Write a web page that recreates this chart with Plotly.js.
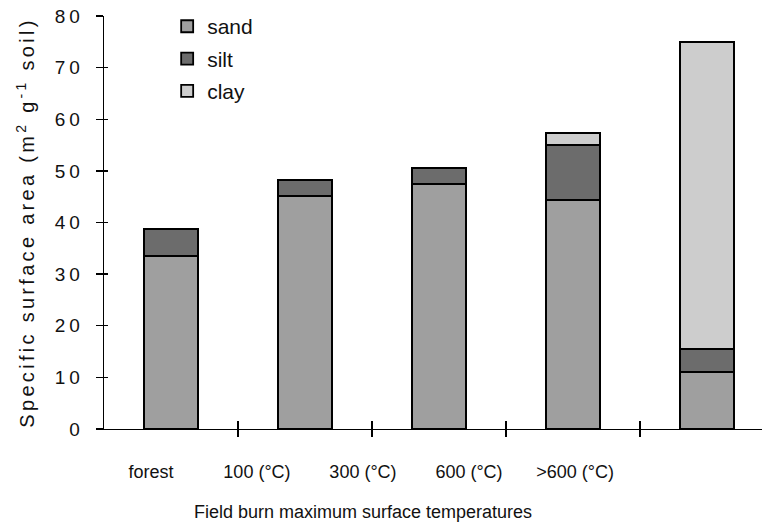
<!DOCTYPE html>
<html>
<head>
<meta charset="utf-8">
<script src="https://cdn.plot.ly/plotly-3.0.1.min.js"></script>
<style>
html,body{margin:0;padding:0;background:#fff;}
#chart{width:762px;height:526px;}
#chart .yaxislayer-above .ytick text{letter-spacing:4px;}
#chart .g-ytitle text{letter-spacing:3.3px;}
</style>
</head>
<body>
<div id="chart"></div>
<script>
const categories = ['forest', '100 (°C)', '300 (°C)', '600 (°C)', '>600 (°C)'];
const sand = [33.5, 45.2, 47.5, 44.4, 11.0];
const silt = [5.2, 3.0, 3.0, 10.6, 4.5];
const clay = [null, null, null, 2.3, 59.5];
const yTicks = [0, 10, 20, 30, 40, 50, 60, 70, 80];

const xIdx = categories.map((c, i) => i);
const boundaries = categories.slice(1).map((c, i) => i + 0.5);
const FONT = 'Liberation Sans, Arial, sans-serif';
const INK = '#111';

function barTrace(name, vals, color) {
  return {
    type: 'bar', name: name, x: xIdx, y: vals, width: 0.40,
    legendgroup: name,
    marker: {color: color, line: {color: '#000', width: 1.8}},
    hoverinfo: 'skip'
  };
}

const data = [
  barTrace('sand', sand, '#9f9f9f'),
  barTrace('silt', silt, '#6c6c6c'),
  barTrace('clay', clay, '#cdcdcd')
];

const layout = {
  width: 762, height: 526,
  margin: {l: 104, r: 0, t: 16, b: 97},
  paper_bgcolor: '#fff', plot_bgcolor: '#fff',
  barmode: 'stack',
  font: {family: FONT, size: 18, color: INK},
  showlegend: true,
  legend: {
    x: 0.096, y: 1.024, xanchor: 'left', yanchor: 'top',
    traceorder: 'grouped', tracegroupgap: 2,
    font: {family: FONT, size: 21, color: INK},
    bgcolor: 'rgba(0,0,0,0)'
  },
  xaxis: {
    type: 'linear', range: [-0.5, 4.41], showgrid: false, zeroline: false,
    showline: true, linecolor: '#000', linewidth: 1.3,
    tickmode: 'array', tickvals: boundaries, ticks: 'outside', ticklen: 7,
    tickcolor: '#000', tickwidth: 1.3, showticklabels: false, fixedrange: true
  },
  xaxis3: {
    overlaying: 'x', anchor: 'y', side: 'bottom',
    type: 'linear', range: [-0.5, 4.41], showgrid: false, zeroline: false,
    showline: false, tickmode: 'array', tickvals: boundaries, ticks: 'inside', ticklen: 8,
    tickcolor: '#000', tickwidth: 1.3, showticklabels: false
  },
  xaxis2: {
    overlaying: 'x', anchor: 'y', side: 'bottom',
    type: 'linear', range: [-0.443, 5.764], showgrid: false, zeroline: false,
    showline: false, ticks: '', tickmode: 'array', tickvals: xIdx, ticktext: categories,
    ticklabelstandoff: 30, tickfont: {family: FONT, size: 18, color: INK}
  },
  yaxis: {
    range: [0, 80], showgrid: false, zeroline: false,
    showline: true, linecolor: '#000', linewidth: 1.3,
    tickmode: 'array', tickvals: yTicks, ticks: 'outside', ticklen: 7,
    tickcolor: '#000', tickwidth: 1.3, ticklabelstandoff: 8,
    tickfont: {family: FONT, size: 19, color: INK},
    title: {text: 'Specific surface area (m<sup>2</sup> g<sup>-1</sup> soil)', font: {family: FONT, size: 20, color: INK}, standoff: 22},
    fixedrange: true
  },
  yaxis2: {
    overlaying: 'y', anchor: 'x', side: 'left',
    range: [0, 80], showgrid: false, zeroline: false, showline: false,
    tickmode: 'array', tickvals: yTicks, ticks: 'inside', ticklen: 4,
    tickcolor: '#000', tickwidth: 1.3, showticklabels: false
  },
  annotations: [{
    text: 'Field burn maximum surface temperatures',
    xref: 'paper', yref: 'paper', x: 0.394, y: -0.201,
    xanchor: 'center', yanchor: 'middle', showarrow: false,
    font: {family: FONT, size: 18, color: INK}
  }]
};

data.push({type: 'scatter', x: [null], y: [null], xaxis: 'x2', yaxis: 'y', showlegend: false, hoverinfo: 'skip'});
data.push({type: 'scatter', x: [null], y: [null], xaxis: 'x3', yaxis: 'y', showlegend: false, hoverinfo: 'skip'});
data.push({type: 'scatter', x: [null], y: [null], xaxis: 'x', yaxis: 'y2', showlegend: false, hoverinfo: 'skip'});

Plotly.newPlot('chart', data, layout, {staticPlot: true, displayModeBar: false});
</script>
</body>
</html>
